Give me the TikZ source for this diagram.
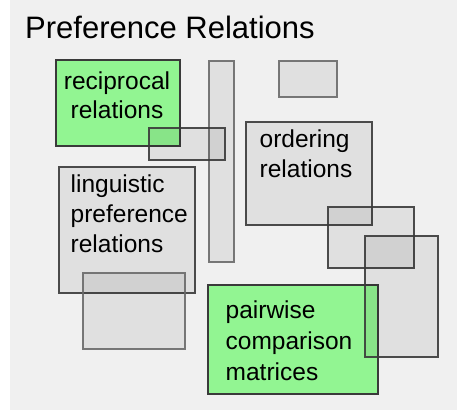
\documentclass[tikz,border=0pt]{standalone}
\usepackage{fontspec}
\setmainfont{Liberation Sans}
\definecolor{panelbg}{HTML}{F0F0F0}
\definecolor{leafgreen}{RGB}{146,245,146}
\definecolor{edgedark}{HTML}{3A3A3A}
\definecolor{edgesoft}{HTML}{6A6A6A}
\tikzset{
  greenbox/.style={fill=leafgreen, draw=edgedark, line width=1.1pt},
  shadebox/.style={fill=black, fill opacity=0.065, draw=edgedark, draw opacity=0.9, line width=1.1pt},
  softbox/.style={shadebox, draw=edgesoft},
  boxtext/.style={inner sep=0pt, font=\fontsize{24.5}{30}\selectfont},
}
\begin{document}
\begin{tikzpicture}[x=1pt,y=-1pt]
  \useasboundingbox (0,0) rectangle (457,410);
  % panel
  \fill[panelbg] (10,0) rectangle (457,410);
  \node[anchor=base west, inner sep=0pt, font=\fontsize{31}{37}\selectfont] (title) at (25,38) {Preference Relations};

  % upper left group
  \draw[greenbox] (56,60) rectangle (180,146);
  \node[boxtext, font=\fontsize{24.5}{28.5}\selectfont, align=center, anchor=north] (rec) at (117,69.5) {\strut reciprocal\\relations};
  \draw[softbox] (209,61) rectangle (234,262);
  \draw[softbox] (279,61) rectangle (337,97);
  \draw[shadebox] (149,128) rectangle (225,160);

  % right group
  \draw[shadebox] (246,122) rectangle (372,225);
  \node[boxtext, align=left, anchor=north west] (ord) at (259.5,126.5) {\strut ordering\\relations};
  \draw[shadebox] (328,207) rectangle (414,268);

  % lower left group
  \draw[shadebox] (59,167) rectangle (195,293);
  \node[boxtext, align=left, anchor=north west] (ling) at (70.5,171) {\strut linguistic\\preference\\relations};
  \draw[softbox] (83,273) rectangle (185,349);

  % lower right group
  \draw[greenbox] (208,285) rectangle (378,394);
  \node[boxtext, font=\fontsize{24.5}{31}\selectfont, align=left, anchor=north west] (pair) at (225.5,296.3) {\strut pairwise\\comparison\\matrices};
  \draw[shadebox] (365,236) rectangle (438,357);
\end{tikzpicture}
\end{document}
